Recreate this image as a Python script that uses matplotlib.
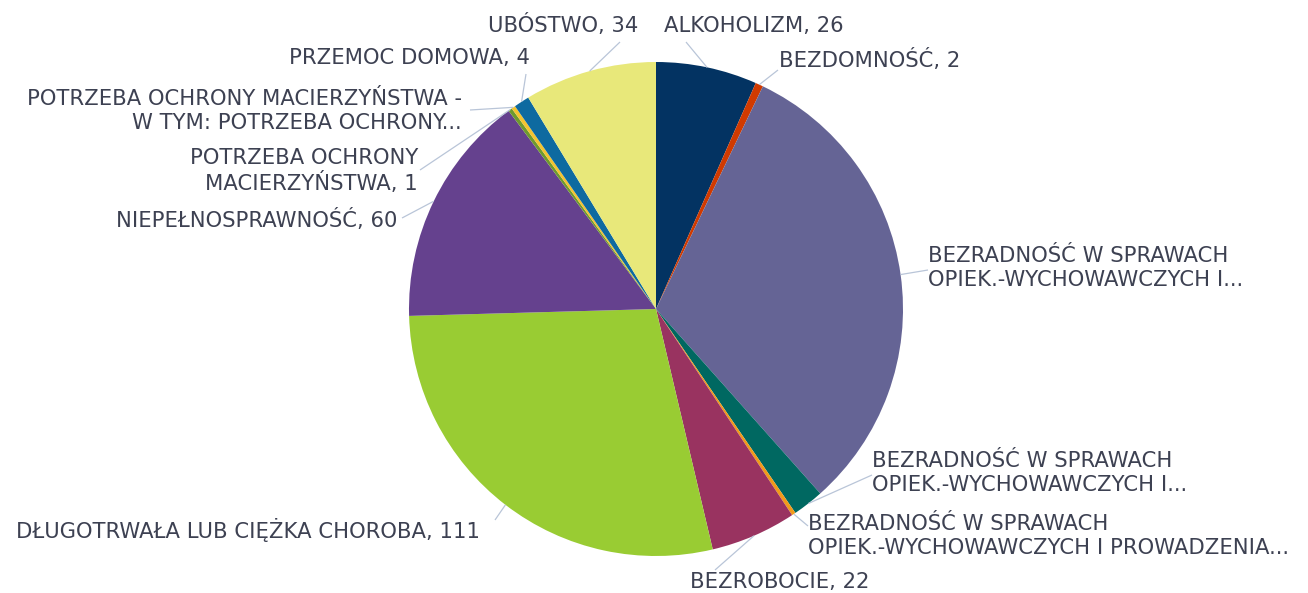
import numpy as np
import matplotlib
matplotlib.use("Agg")
import matplotlib.pyplot as plt

categories = [
    "ALKOHOLIZM",
    "BEZDOMNOŚĆ",
    "BEZRADNOŚĆ W SPRAWACH\nOPIEK.-WYCHOWAWCZYCH I...",
    "BEZRADNOŚĆ W SPRAWACH\nOPIEK.-WYCHOWAWCZYCH I...",
    "BEZRADNOŚĆ W SPRAWACH\nOPIEK.-WYCHOWAWCZYCH I PROWADZENIA...",
    "BEZROBOCIE",
    "DŁUGOTRWAŁA LUB CIĘŻKA CHOROBA",
    "NIEPEŁNOSPRAWNOŚĆ",
    "POTRZEBA OCHRONY\nMACIERZYŃSTWA",
    "POTRZEBA OCHRONY MACIERZYŃSTWA -\nW TYM: POTRZEBA OCHRONY...",
    "PRZEMOC DOMOWA",
    "UBÓSTWO",
]
values = [26, 2, 123, 8, 1, 22, 111, 60, 1, 1, 4, 34]
show_value = [True, True, False, False, False, True, True, True, True, False, True, True]
colors = ["#033362", "#d03a00", "#656495", "#006861", "#f29a1a", "#993360",
          "#99cc33", "#65418e", "#6f9a2e", "#f4c430", "#0e6aa0", "#e8e87a"]

W, H = 1308, 593
fig = plt.figure(figsize=(W / 100, H / 100), dpi=100)
ax = fig.add_axes([0, 0, 1, 1])

cx, cy, R = 656, H - 309, 247
wedges, _ = ax.pie(values, colors=colors, startangle=90, counterclock=False,
                   center=(cx, cy), radius=R, wedgeprops=dict(linewidth=0))
ax.set_xlim(0, W)
ax.set_ylim(0, H)
ax.set_aspect("equal")
ax.axis("off")

# label layout (pixel coords, y from top): text anchor, alignment, leader start
layout = [
    ((664, 26), "left", (686, 42)),
    ((779, 60), "left", (778, 70)),
    ((928, 268), "left", (928, 270)),
    ((872, 473), "left", (872, 475)),
    ((808, 536), "left", (808, 526)),
    ((690, 582), "left", (715, 570)),
    ((480, 530), "right", (495, 520)),
    ((397, 220), "right", (402, 218)),
    ((418, 171), "right", (420, 170)),
    ((462, 111), "right", (470, 110)),
    ((530, 58), "right", (526, 74)),
    ((638, 25), "right", (620, 42)),
]

text_color = "#3d4152"
line_color = "#b9c5d8"
for w, cat, val, sv, (tpos, ha, lpos) in zip(wedges, categories, values, show_value, layout):
    mid = np.deg2rad((w.theta1 + w.theta2) / 2)
    ex = cx + R * np.cos(mid)
    ey = cy + R * np.sin(mid)
    ax.plot([lpos[0], ex], [H - lpos[1], ey], color=line_color, lw=0.9,
            solid_capstyle="butt")
    label = f"{cat}, {val}" if sv else cat
    ax.text(tpos[0], H - tpos[1], label, ha=ha, va="center", multialignment=ha,
            fontsize=15.2, family=["DejaVu Sans"], color=text_color,
            linespacing=1.2)

fig.savefig("out.png", dpi=100, facecolor="white")
